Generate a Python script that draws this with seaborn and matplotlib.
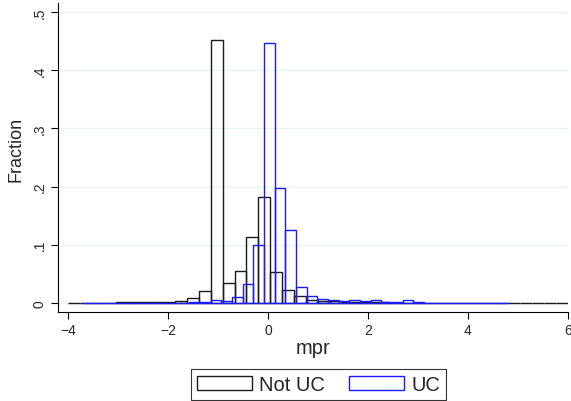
import matplotlib
matplotlib.use("Agg")
from matplotlib import pyplot as plt
from matplotlib.patches import Patch
import numpy as np
import pandas as pd
import seaborn as sns

# bin layout of the two histograms (min, max, number of bins)
notuc_range = (-4.0, 6.0, 42)
uc_range = (-3.71, 4.83, 40)

notuc_frac = [0.0005, 0.0005, 0.0, 0.0005, 0.001, 0.001, 0.001, 0.0015, 0.002, 0.004,
              0.0086, 0.021, 0.452, 0.034, 0.0555, 0.113, 0.182, 0.054, 0.022, 0.0115,
              0.0057, 0.0034, 0.003, 0.002, 0.0015, 0.001, 0.001, 0.0005, 0.0005, 0.0005,
              0.0, 0.0005, 0.0, 0.0, 0.0, 0.0, 0.0, 0.0, 0.0, 0.0,
              0.0, 0.0005]
uc_frac = [0.0, 0.0, 0.0, 0.0005, 0.0, 0.0005, 0.0, 0.0005, 0.0005, 0.0005,
           0.001, 0.001, 0.005, 0.003, 0.0098, 0.033, 0.099, 0.446, 0.198, 0.125,
           0.027, 0.0125, 0.007, 0.0057, 0.004, 0.0057, 0.003, 0.0045, 0.002, 0.002,
           0.005, 0.002, 0.0005, 0.0, 0.0, 0.0005, 0.0, 0.0, 0.0005, 0.0]

y_ticks = [0, 0.1, 0.2, 0.3, 0.4, 0.5]
y_labels = ["0", ".1", ".2", ".3", ".4", ".5"]
x_ticks = [-4, -2, 0, 2, 4, 6]
x_labels = ["\u22124", "\u22122", "0", "2", "4", "6"]

sns.set_style("white")
plt.rcParams["font.family"] = ["Liberation Sans", "DejaVu Sans"]


def make_bins(lo, hi, n, frac):
    edges = np.linspace(lo, hi, n + 1)
    centers = (edges[:-1] + edges[1:]) / 2
    return [float(e) for e in edges], pd.DataFrame({"mpr": centers, "frac": frac})


notuc_edges, notuc_df = make_bins(*notuc_range, notuc_frac)
uc_edges, uc_df = make_bins(*uc_range, uc_frac)

fig = plt.figure(figsize=(5.71, 4.02), dpi=100)
ax = fig.add_axes([0.1016, 0.222, 0.8926, 0.768])

black = "#1a1a1a"
blue = "#1a1aff"
sns.histplot(data=notuc_df, x="mpr", weights="frac", bins=notuc_edges,
             fill=False, element="bars", color=black, edgecolor=black,
             linewidth=1.0, ax=ax)
sns.histplot(data=uc_df, x="mpr", weights="frac", bins=uc_edges,
             fill=False, element="bars", color=blue, edgecolor=blue,
             linewidth=1.0, ax=ax)

ax.set_xlim(-4.2, 6.0)
ax.set_ylim(-0.015, 0.515)
ax.set_yticks(y_ticks)
ax.set_yticklabels(y_labels, rotation=90, va="center")
ax.set_xticks(x_ticks)
ax.set_xticklabels(x_labels)
ax.tick_params(axis="both", direction="out", length=5, width=0.8, color="black",
               labelsize=10, pad=3)
ax.tick_params(axis="x", bottom=True)
ax.tick_params(axis="y", left=True)
ax.grid(axis="y", color="#eaf2f3", linewidth=1.0)
ax.set_axisbelow(True)
for side in ["top", "right"]:
    ax.spines[side].set_visible(False)
for side in ["left", "bottom"]:
    ax.spines[side].set_color("black")
    ax.spines[side].set_linewidth(0.8)

ax.set_xlabel("mpr", fontsize=14.5, labelpad=1)
ax.set_ylabel("Fraction", fontsize=13)
ax.yaxis.set_label_coords(-0.066, 0.53)

handles = [Patch(facecolor="white", edgecolor=black, linewidth=1.0),
           Patch(facecolor="white", edgecolor=blue, linewidth=1.0)]
leg = fig.legend(handles, ["Not UC", "UC"], loc="center",
                 bbox_to_anchor=(318.5 / 571, 1 - 385.5 / 402), ncol=2,
                 frameon=True, fancybox=False, fontsize=14.5,
                 handlelength=2.75, handleheight=0.72, handletextpad=0.35,
                 columnspacing=1.2, borderpad=0.3, borderaxespad=0)
leg.get_frame().set_edgecolor("black")
leg.get_frame().set_linewidth(0.8)

fig.savefig("out.png", dpi=100)
